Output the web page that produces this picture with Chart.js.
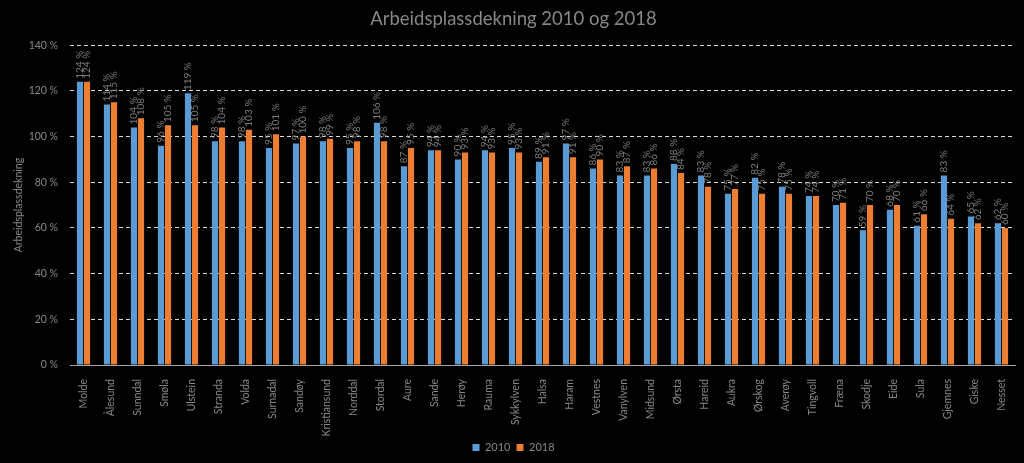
<!DOCTYPE html>
<html>
<head>
<meta charset="utf-8">
<script src="https://cdn.jsdelivr.net/npm/chart.js@4"></script>
<style>
  html, body { margin: 0; padding: 0; background: #000; }
  #wrap { width: 1024px; height: 463px; }
</style>
</head>
<body>
<div id="wrap"><canvas id="dekningChart" width="1024" height="463"></canvas></div>
<script>
const kommuner = ["Molde", "Ålesund", "Sunndal", "Smøla", "Ulstein", "Stranda", "Volda", "Surnadal",
  "Sandøy", "Kristiansund", "Norddal", "Stordal", "Aure", "Sande", "Herøy", "Rauma", "Sykkylven",
  "Halsa", "Haram", "Vestnes", "Vanylven", "Midsund", "Ørsta", "Hareid", "Aukra", "Ørskog",
  "Averøy", "Tingvoll", "Fræna", "Skodje", "Eide", "Sula", "Gjemnes", "Giske", "Nesset"];
const dekning2010 = [124, 114, 104, 96, 119, 98, 98, 95, 97, 98, 95, 106, 87, 94, 90, 94, 95,
  89, 97, 86, 83, 83, 88, 83, 75, 82, 78, 74, 70, 59, 68, 61, 83, 65, 62];
const dekning2018 = [124, 115, 108, 105, 105, 104, 103, 101, 100, 99, 98, 98, 95, 94, 93, 93, 93,
  91, 91, 90, 87, 86, 84, 78, 77, 75, 75, 74, 71, 70, 70, 66, 64, 62, 60];
const yTicks = [0, 20, 40, 60, 80, 100, 120, 140];

const textGray = "#878787";
const fontFamily = "Lato, 'Open Sans', sans-serif";

// verdietiketter, rotert over hver stolpe
const verdiEtiketter = {
  id: "verdiEtiketter",
  afterDatasetsDraw(chart) {
    const ctx = chart.ctx;
    ctx.save();
    ctx.fillStyle = "#7d7d7d";
    ctx.font = "10px " + fontFamily;
    ctx.textAlign = "left";
    ctx.textBaseline = "middle";
    chart.data.datasets.forEach((ds, i) => {
      chart.getDatasetMeta(i).data.forEach((bar, j) => {
        ctx.save();
        ctx.translate(bar.x, bar.y - 3);
        ctx.rotate(-Math.PI / 2);
        ctx.fillText(ds.data[j] + " %", 0, 0);
        ctx.restore();
      });
    });
    ctx.restore();
  },
};

const ctx = document.getElementById("dekningChart").getContext("2d");
new Chart(ctx, {
  type: "bar",
  data: {
    labels: kommuner,
    datasets: [
      { label: "2010", data: dekning2010, backgroundColor: "#5B9BD5" },
      { label: "2018", data: dekning2018, backgroundColor: "#ED7D31" },
    ],
  },
  options: {
    responsive: false,
    animation: false,
    devicePixelRatio: 1,
    layout: { padding: { top: 8, right: 9, left: 12, bottom: 0 } },
    datasets: { bar: { categoryPercentage: 0.52, barPercentage: 0.88 } },
    scales: {
      x: {
        grid: { display: false },
        border: { display: true, color: "#a6a6a6", width: 1 },
        ticks: {
          color: textGray,
          font: { family: fontFamily, size: 10.5 },
          minRotation: 90,
          maxRotation: 90,
          autoSkip: false,
          padding: 6,
        },
        afterFit: function (scale) {
          scale.height = 71;
        },
      },
      y: {
        min: 0,
        max: 140,
        afterBuildTicks: function (scale) {
          scale.ticks = yTicks.map((v) => ({ value: v }));
        },
        grid: { color: "#d9d9d9", lineWidth: 1, drawTicks: false },
        border: { display: false, dash: [4, 3] },
        ticks: {
          color: textGray,
          font: { family: fontFamily, size: 10.5 },
          padding: 12,
          callback: function (value) {
            return value + " %";
          },
        },
        title: {
          display: true,
          text: "Arbeidsplassdekning",
          color: textGray,
          font: { family: fontFamily, size: 10.5 },
          padding: 0,
        },
        afterFit: function (scale) {
          scale.width = 58;
        },
      },
    },
    plugins: {
      title: {
        display: true,
        text: "Arbeidsplassdekning 2010 og 2018",
        color: textGray,
        font: { family: fontFamily, size: 18.5, weight: "normal" },
        padding: { top: 0, bottom: 15 },
      },
      legend: {
        position: "bottom",
        labels: {
          color: textGray,
          font: { family: fontFamily, size: 11 },
          boxWidth: 7,
          boxHeight: 7,
          padding: 6,
        },
      },
      tooltip: { enabled: false },
    },
  },
  plugins: [verdiEtiketter],
});
</script>
</body>
</html>
